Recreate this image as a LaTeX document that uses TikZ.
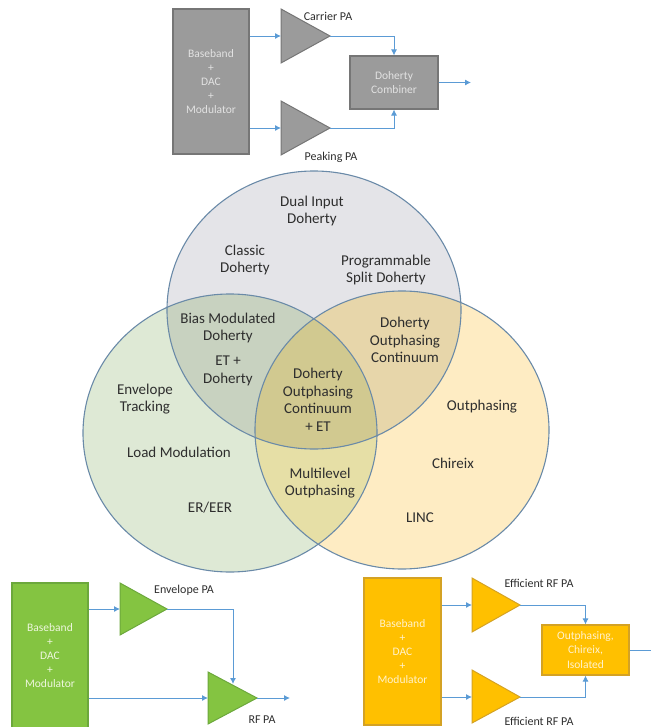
\documentclass[tikz,border=0pt]{standalone}
\usepackage{fontspec}
\setmainfont{Carlito}
\usetikzlibrary{arrows.meta}

% Venn region colours
\definecolor{vtop}{HTML}{E4E4E8}
\definecolor{vleft}{HTML}{DEE9D5}
\definecolor{vright}{HTML}{FEECC3}
\definecolor{vtl}{HTML}{C8D2C0}
\definecolor{vtr}{HTML}{E7D6AA}
\definecolor{vlr}{HTML}{E6DFA6}
\definecolor{vall}{HTML}{D1C990}
\definecolor{vedge}{HTML}{6A8AA8}
\definecolor{vtext}{HTML}{2E2E2E}
% block diagram colours
\definecolor{wire}{HTML}{5B9BD5}
\definecolor{grayfill}{HTML}{9B9B9B}
\definecolor{grayedge}{HTML}{767676}
\definecolor{graytext}{HTML}{E2E2E2}
\definecolor{greenfill}{HTML}{84C441}
\definecolor{greenedge}{HTML}{6CA83C}
\definecolor{greentext}{HTML}{EEF6DE}
\definecolor{orangefill}{HTML}{FFC000}
\definecolor{orangeedge}{HTML}{D4A224}
\definecolor{orangetext}{HTML}{FFF2CC}

\begin{document}
\begin{tikzpicture}[x=1pt,y=-1pt,
  vlabel/.style={text=vtext, align=center, inner sep=0pt,
    font=\fontsize{15}{17.5}\selectfont},
  palabel/.style={text=vtext, inner sep=0pt, font=\fontsize{12}{14}\selectfont},
  blk/.style={line width=1.1pt, inner sep=0pt, align=center,
    font=\fontsize{11.5}{14.2}\selectfont},
  grayblk/.style={blk, draw=grayedge, fill=grayfill, text=graytext},
  greenblk/.style={blk, draw=greenedge, fill=greenfill, text=greentext},
  orangeblk/.style={blk, draw=orangeedge, fill=orangefill, text=orangetext},
  amp/.style={line width=1pt, line join=miter},
  wire/.style={draw=wire, line width=0.9pt},
  arr/.style={wire, -{Latex[length=6pt,width=6pt]}},
  vring/.style={draw=vedge, line width=1.1pt}
]
\useasboundingbox (0,0) rectangle (651,727);

% ---------------- Venn diagram ----------------
\coordinate (ct) at (314,310);
\coordinate (cl) at (230,433);
\coordinate (cr) at (402,430);
\def\rx{147}\def\ry{139}

\fill[vtop]   (ct) ellipse [x radius=\rx, y radius=\ry];
\fill[vleft]  (cl) ellipse [x radius=\rx, y radius=\ry];
\fill[vright] (cr) ellipse [x radius=\rx, y radius=\ry];
\begin{scope}
  \clip (cl) ellipse [x radius=\rx, y radius=\ry];
  \fill[vlr] (cr) ellipse [x radius=\rx, y radius=\ry];
\end{scope}
\begin{scope}
  \clip (ct) ellipse [x radius=\rx, y radius=\ry];
  \fill[vtl] (cl) ellipse [x radius=\rx, y radius=\ry];
  \fill[vtr] (cr) ellipse [x radius=\rx, y radius=\ry];
  \clip (cl) ellipse [x radius=\rx, y radius=\ry];
  \fill[vall] (cr) ellipse [x radius=\rx, y radius=\ry];
\end{scope}
\draw[vring] (ct) ellipse [x radius=\rx, y radius=\ry];
\draw[vring] (cl) ellipse [x radius=\rx, y radius=\ry];
\draw[vring] (cr) ellipse [x radius=\rx, y radius=\ry];

\node[vlabel] (dualin)  at (312,211) {Dual Input\\Doherty};
\node[vlabel] (classic) at (245,260) {Classic\\Doherty};
\node[vlabel] (progsp)  at (386,270) {Programmable\\Split Doherty};
\node[vlabel] (biasmod) at (228,328) {Bias Modulated\\Doherty};
\node[vlabel] (etdoh)   at (228,371) {ET +\\Doherty};
\node[vlabel] (envtrk)  at (145,399) {Envelope\\Tracking};
\node[vlabel] (loadmod) at (179,452) {Load Modulation};
\node[vlabel] (ereer)   at (210,508) {ER/EER};
\node[vlabel] (docet)   at (318,400) {Doherty\\Outphasing\\Continuum\\+ ET};
\node[vlabel] (doc)     at (405,340) {Doherty\\Outphasing\\Continuum};
\node[vlabel] (multi)   at (320,483) {Multilevel\\Outphasing};
\node[vlabel] (outph)   at (482,407) {Outphasing};
\node[vlabel] (chireix) at (453,463) {Chireix};
\node[vlabel] (linc)    at (420,518) {LINC};

% ---------------- Doherty transmitter (gray) ----------------
\node[grayblk, minimum width=76pt, minimum height=145pt] (gbb) at (211,81.5)
  {Baseband\\+\\DAC\\+\\Modulator};
\node[grayblk, minimum width=88pt, minimum height=53pt] (dcomb) at (394,82.5)
  {Doherty\\Combiner};
\filldraw[amp, draw=grayedge, fill=grayfill] (281,9) -- (330,36) coordinate (carT)
  -- (281,63) -- cycle;
\coordinate (carL) at (281,36);
\filldraw[amp, draw=grayedge, fill=grayfill] (281,101) -- (330,128) coordinate (pkT)
  -- (281,155) -- cycle;
\coordinate (pkL) at (281,128);
\node[palabel] (carlbl) at (328,16) {Carrier PA};
\node[palabel] (pklbl)  at (331,157) {Peaking PA};
\draw[arr] (gbb.east |- carL) -- (carL);
\draw[arr] (gbb.east |- pkL) -- (pkL);
\draw[arr] (carT) -| (dcomb.north);
\draw[arr] (pkT) -| (dcomb.south);
\coordinate (gout) at (471,82.5);
\draw[arr] (dcomb.east) -- (gout);

% ---------------- Envelope tracking transmitter (green) ----------------
\node[greenblk, minimum width=76pt, minimum height=145pt] (grbb) at (50,655.5)
  {Baseband\\+\\DAC\\+\\Modulator};
\filldraw[amp, draw=greenedge, fill=greenfill] (120,583) -- (167,609) coordinate (envT)
  -- (120,635) -- cycle;
\coordinate (envL) at (120,609);
\filldraw[amp, draw=greenedge, fill=greenfill] (208,672) -- (257,698) coordinate (rfT)
  -- (208,724) -- cycle;
\coordinate (rfL) at (208,698);
\coordinate (rfTop) at (233,684);
\node[palabel] (envlbl) at (184,590) {Envelope PA};
\node[palabel] (rflbl)  at (262,720) {RF PA};
\draw[arr] (grbb.east |- envL) -- (envL);
\draw[arr] (envT) -| (rfTop);
\draw[arr] (grbb.east |- rfL) -- (rfL);
\coordinate (rfout) at (290,698);
\draw[arr] (rfT) -- (rfout);

% ---------------- Outphasing transmitter (orange) ----------------
\node[orangeblk, minimum width=77pt, minimum height=147pt] (obb) at (402.5,651.5)
  {Baseband\\+\\DAC\\+\\Modulator};
\node[orangeblk, minimum width=87pt, minimum height=50pt] (ocomb) at (585.5,650)
  {Outphasing,\\Chireix,\\Isolated};
\filldraw[amp, draw=orangeedge, fill=orangefill] (472,578) -- (520,605) coordinate (e1T)
  -- (472,632) -- cycle;
\coordinate (e1L) at (472,605);
\filldraw[amp, draw=orangeedge, fill=orangefill] (472,670) -- (520,697) coordinate (e2T)
  -- (472,723) -- cycle;
\coordinate (e2L) at (472,697);
\node[palabel] (e1lbl) at (539,583) {Efficient RF PA};
\node[palabel] (e2lbl) at (539,721) {Efficient RF PA};
\draw[arr] (obb.east |- e1L) -- (e1L);
\draw[arr] (obb.east |- e2L) -- (e2L);
\draw[arr] (e1T) -| (ocomb.north);
\draw[arr] (e2T) -| (ocomb.south);
\coordinate (oout) at (651,650);
\draw[wire] (ocomb.east) -- (oout);
\end{tikzpicture}
\end{document}
